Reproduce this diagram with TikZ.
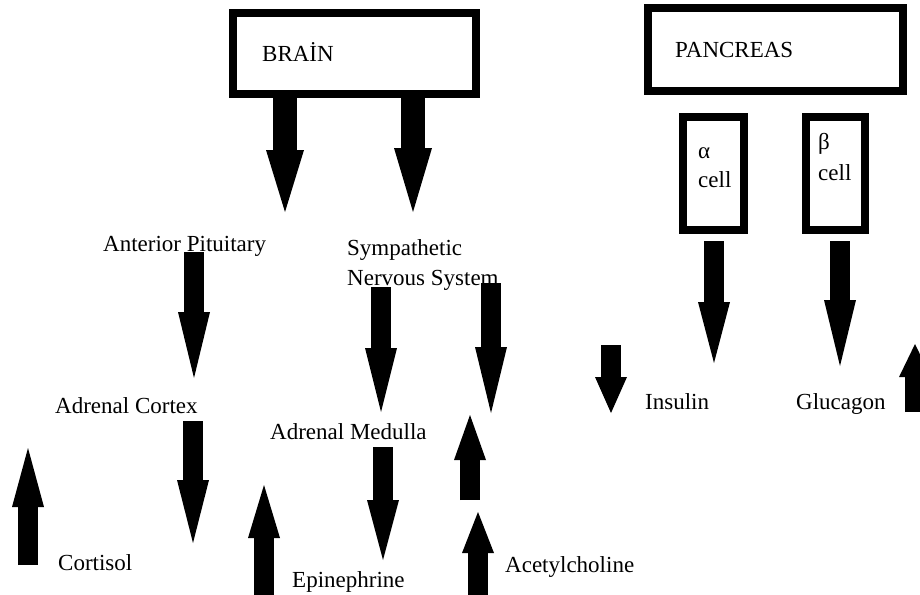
\documentclass[tikz,border=0pt]{standalone}
\usepackage{fontspec}
\setmainfont{Liberation Serif}
\usetikzlibrary{arrows.meta}

\begin{document}
\begin{tikzpicture}[x=1pt, y=-1pt,
    every node/.style={font=\fontsize{23}{28}\selectfont},
    lbl/.style={anchor=base west, inner sep=0pt},
    organbox/.style={draw, line width=8pt, inner sep=0pt, outer sep=0pt},
    blockarrow/.style={line width=20pt, -{Triangle[length=#1pt, width=32pt, line width=0pt]}},
    bigarrow/.style={line width=24pt, -{Triangle[length=#1pt, width=38pt, line width=0pt]}}]
  \useasboundingbox (0,0) rectangle (920,594);
  % organ boxes
  \node[organbox, minimum width=243pt, minimum height=81pt] (brain) at (354.5,53.5) {};
  \node[organbox, minimum width=255pt, minimum height=82.5pt] (pancreas) at (775,49.75) {};
  \node[organbox, minimum width=61.5pt, minimum height=113pt] (acell) at (713.25,173.5) {};
  \node[organbox, minimum width=59pt, minimum height=113pt] (bcell) at (835.5,173.5) {};
  % texts in the boxes
  \node[lbl] (brainlbl) at (262,62) {BRAİN};
  \node[lbl] (pancreaslbl) at (675,57) {PANCREAS};
  \node[lbl] (alpha) at (698,158) {α};
  \node[lbl] (alphacell) at (698,187) {cell};
  \node[lbl] (beta) at (818,149) {β};
  \node[lbl] (betacell) at (818,180) {cell};
  % labels
  \node[lbl] (pituitary) at (103,251) {Anterior Pituitary};
  \node[lbl] (sympathetic) at (347,255) {Sympathetic};
  \node[lbl] (nervous) at (347,285) {Nervous System};
  \node[lbl] (cortex) at (55,413) {Adrenal Cortex};
  \node[lbl] (medulla) at (270,439) {Adrenal Medulla};
  \node[lbl] (cortisol) at (58,570) {Cortisol};
  \node[lbl] (epinephrine) at (292,587) {Epinephrine};
  \node[lbl] (acetylcholine) at (505,572) {Acetylcholine};
  \node[lbl] (insulin) at (645,409) {Insulin};
  \node[lbl] (glucagon) at (796,409) {Glucagon};
  % arrows out of the brain
  \foreach \n/\x/\a/\b/\h in {brainL/285/98/212/62, brainR/413/98/212/64} {
    \coordinate (\n-s) at (\x,\a);
    \coordinate (\n-t) at (\x,\b);
    \draw[bigarrow=\h] (\n-s) -- (\n-t);
  }
  % the other block arrows (down and up)
  \foreach \n/\x/\a/\b/\h in {pit/194/252/378/66, sympL/381/287/412/64,
      sympR/491/283/413/66, cort/193/421/543/63, medu/383/447/560/60,
      ins/611/345/413/36, acel/714/241/363/61, bcel/840/241/366/66,
      cortup/28/565/448/59, epiup/264/600/485/53, midup/470/500/415/45,
      achup/478/600/512/41, edgeup/915/412/344/33} {
    \coordinate (\n-s) at (\x,\a);
    \coordinate (\n-t) at (\x,\b);
    \draw[blockarrow=\h] (\n-s) -- (\n-t);
  }
\end{tikzpicture}
\end{document}
